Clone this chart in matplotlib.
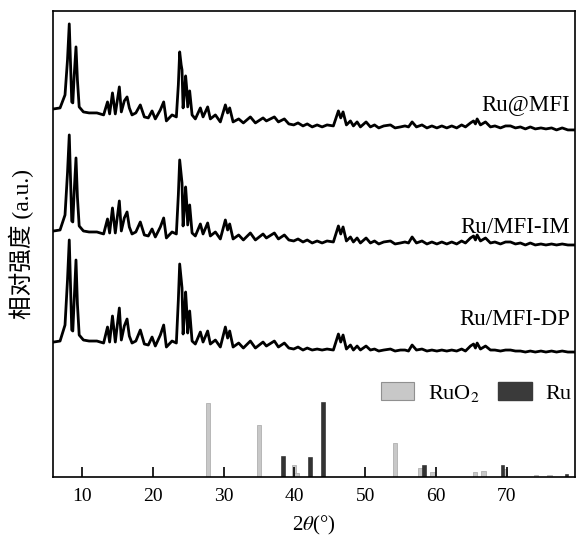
import matplotlib
matplotlib.use("Agg")
from matplotlib import pyplot as plt
from matplotlib.patches import Patch

plt.rcParams['font.family'] = ['Liberation Serif', 'Noto Sans CJK SC']
plt.rcParams['mathtext.fontset'] = 'stix'

# 2theta positions of the trace vertices
two_theta = [6.0, 6.9, 7.6, 7.95, 8.2, 8.4, 8.55, 8.7, 8.9, 9.15,
             9.35, 9.6, 10.2, 11.0, 12.1, 12.6, 13.05, 13.6, 13.9, 14.3,
             14.7, 15.27, 15.55, 15.97, 16.36, 16.68, 17.06, 17.6, 18.23, 18.8,
             19.36, 19.89, 20.35, 21.06, 21.53, 21.91, 22.3, 22.71, 23.32, 23.6,
             23.79, 24.0, 24.12, 24.27, 24.45, 24.63, 24.8, 24.92, 25.2, 25.54,
             26.0, 26.71, 27.09, 27.74, 28.12, 28.83, 29.53, 30.24, 30.56, 30.85,
             31.33, 32.12, 32.78, 33.77, 34.48, 35.56, 36.03, 37.16, 37.73, 38.57,
             39.2, 39.89, 40.5, 41.2, 41.8, 42.5, 43.2, 43.9, 44.6, 45.49,
             46.2, 46.53, 46.86, 47.33, 47.9, 48.32, 48.84, 49.31, 50.11, 50.72,
             51.3, 51.9, 52.6, 53.55, 54.2, 54.96, 55.6, 56.1, 56.61, 57.22,
             58.0, 58.7, 59.4, 60.1, 60.8, 61.5, 62.2, 62.9, 63.6, 64.14,
             64.85, 65.28, 65.55, 65.79, 66.26, 66.97, 67.67, 68.3, 69.08, 69.8,
             70.5, 71.2, 71.9, 72.6, 73.3, 74.0, 74.8, 75.5, 76.3, 77.0,
             77.8, 78.6, 79.6]

ru_mfi = [21, 22, 35, 70, 106, 60, 28, 27, 55, 83,
          50, 23, 18, 17, 17, 16, 15, 28, 16, 37,
          16, 43, 18, 29, 33, 22, 15, 17, 25, 13,
          12, 19, 11, 20, 28, 9, 12, 15, 13, 45,
          78, 65, 60, 22, 35, 54, 40, 23, 39, 15,
          11, 22, 13, 23, 11, 15, 8, 25, 17, 22,
          8, 11, 7, 13, 7, 12, 9, 13, 8, 11,
          6, 5, 7, 4, 6, 3, 5, 3, 5, 4,
          19, 12, 18, 5, 9, 4, 8, 3, 8, 3,
          5, 2, 4, 5, 2, 3, 4, 3, 8, 3,
          5, 2, 4, 2, 4, 2, 4, 2, 5, 3,
          7, 9, 6, 11, 5, 8, 3, 4, 2, 4,
          4, 2, 3, 1, 3, 1, 2, 1, 2, 0,
          2, 0, 0]

ru_mfi_im = [19, 20, 35, 77, 115, 66, 29, 28, 59, 92,
             53, 24, 19, 18, 18, 17, 16, 31, 17, 42,
             17, 49, 19, 32, 38, 23, 16, 18, 28, 15,
             14, 21, 13, 23, 32, 12, 15, 18, 16, 55,
             90, 75, 67, 24, 40, 63, 45, 25, 45, 17,
             14, 26, 16, 27, 14, 18, 11, 30, 20, 26,
             11, 15, 10, 17, 10, 16, 12, 17, 11, 15,
             10, 9, 11, 8, 10, 7, 9, 7, 9, 8,
             24, 16, 23, 9, 13, 8, 12, 7, 12, 7,
             9, 6, 8, 9, 6, 7, 8, 7, 13, 7,
             9, 6, 8, 6, 8, 6, 8, 6, 9, 7,
             12, 14, 10, 15, 9, 12, 7, 8, 6, 8,
             8, 6, 7, 5, 7, 5, 6, 5, 6, 5,
             6, 5, 5]

ru_mfi_dp = [10, 11, 27, 72, 112, 62, 22, 21, 52, 92,
             48, 17, 12, 11, 11, 10, 9, 25, 10, 36,
             10, 44, 12, 26, 33, 16, 9, 11, 22, 8,
             7, 15, 6, 17, 27, 5, 8, 11, 9, 52,
             88, 72, 64, 18, 35, 60, 40, 19, 41, 11,
             8, 20, 10, 21, 8, 12, 5, 25, 14, 21,
             5, 9, 4, 11, 4, 10, 6, 11, 5, 9,
             4, 3, 5, 2, 4, 2, 3, 2, 3, 2,
             18, 10, 17, 3, 7, 2, 6, 2, 6, 2,
             3, 1, 2, 3, 1, 2, 2, 1, 7, 2,
             3, 1, 2, 1, 2, 1, 2, 1, 3, 1,
             6, 8, 4, 9, 3, 6, 2, 2, 1, 2,
             2, 1, 1, 0, 1, 0, 1, 0, 1, 0,
             1, 0, 0]

samples = ["Ru@MFI", "Ru/MFI-IM", "Ru/MFI-DP"]
traces = [ru_mfi, ru_mfi_im, ru_mfi_dp]
offsets = [347, 227, 125]
label_y = [372, 249, 158]

# reference patterns
ruo2_pos = [27.8, 35.0, 39.9, 40.3, 54.2, 57.8, 59.5, 65.5, 66.7, 69.7, 74.1, 76.0]
ruo2_int = [74, 52, 12, 4, 34, 9, 5, 5, 6, 8, 2, 2]
ru_pos = [38.4, 42.2, 44.0, 58.3, 69.4, 78.4]
ru_int = [21, 20, 75, 12, 12, 3]

fig = plt.figure(figsize=(5.79, 5.44), dpi=100)
ax = fig.add_axes([0.0915, 0.123, 0.9015, 0.857])

for name, trace, off, ly in zip(samples, traces, offsets, label_y):
    ax.plot(two_theta, [v + off for v in trace], color='black', linewidth=2.0,
            solid_joinstyle='round')
    ax.text(78.9, ly, name, ha='right', va='center', fontsize=16.5)

ax.bar(ruo2_pos, ruo2_int, width=0.6, color='#c8c8c8', edgecolor='#b0b0b0',
       linewidth=0.6)
ax.bar(ru_pos, ru_int, width=0.5, color='#333333', edgecolor='#222222',
       linewidth=0.4)

handles = [Patch(facecolor='#c8c8c8', edgecolor='#909090', linewidth=0.8),
           Patch(facecolor='#3a3a3a', edgecolor='#3a3a3a')]
ax.legend(handles, ['RuO$_2$', 'Ru'], ncol=2, frameon=False, fontsize=16,
          loc='center right', bbox_to_anchor=(1.018, 0.18), handlelength=1.5,
          handleheight=0.85, columnspacing=0.85, handletextpad=0.6,
          borderaxespad=0.2)

ax.set_xlim(5.9, 79.6)
ax.set_ylim(0, 466)
ax.set_xticks([10, 20, 30, 40, 50, 60, 70])
ax.set_yticks([])
ax.tick_params(axis='x', direction='in', length=7, width=1.2, labelsize=14,
               pad=8)
for s in ax.spines.values():
    s.set_linewidth(1.2)

ax.set_xlabel(r'2$\theta$(°)', fontsize=15, labelpad=6)
ax.set_ylabel('相对强度 (a.u.)', fontsize=17, labelpad=14)

fig.savefig('out.png', dpi=100)
